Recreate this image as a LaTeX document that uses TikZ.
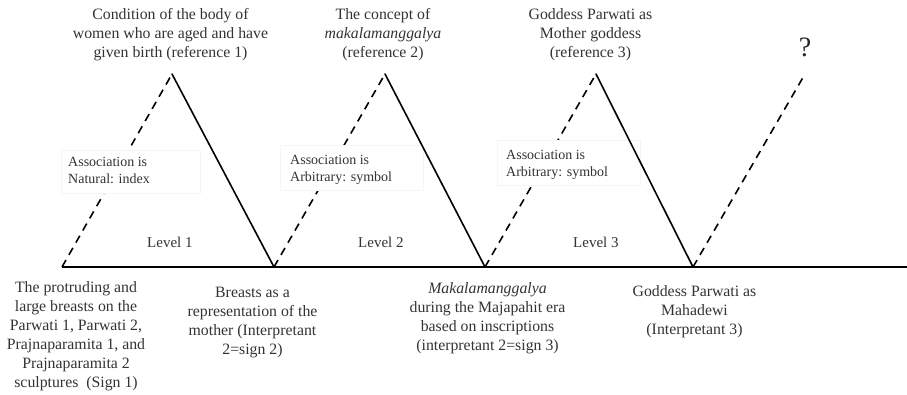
\documentclass[tikz,border=0pt]{standalone}
\usepackage{fontspec}
\setmainfont{Liberation Serif}
\begin{document}
\begin{tikzpicture}[x=1pt,y=-1pt,
  txt/.style={text=black!80, inner sep=0pt, anchor=north, align=center,
    font=\fontsize{15.8}{19}\selectfont},
  small/.style={text=black!80, inner sep=0pt, anchor=north west, align=left,
    font=\fontsize{14}{16.5}\selectfont},
  lvl/.style={text=black!80, inner sep=0pt, anchor=base west,
    font=\fontsize{15}{18}\selectfont},
  sideline/.style={line width=1.6pt, line cap=round},
  dashline/.style={line width=1.6pt, dash pattern=on 8pt off 6pt},
  axis/.style={line width=2.2pt},
  labelbox/.style={draw=black!4, line width=0.5pt, fill=white,
    inner sep=0pt, anchor=north west}]
\useasboundingbox (0,0) rectangle (907,395);

% vertices of the three triangles
\coordinate (s1) at (62,267);
\coordinate (a1) at (172,74);
\coordinate (v2) at (274,267);
\coordinate (a2) at (385,74);
\coordinate (v3) at (485,267);
\coordinate (a3) at (596,74);
\coordinate (v4) at (693,267);
\coordinate (q)  at (805,74);
\coordinate (e)  at (907,267);

% dashed sides (sign to reference)
\draw[dashline] (s1) -- (a1);
\draw[dashline] (v2) -- (a2);
\draw[dashline] (v3) -- (a3);
\draw[dashline] (v4) -- (q);

% association boxes
\node[labelbox, minimum width=139pt, minimum height=43pt] (b1) at (61,150) {};
\node[labelbox, minimum width=143pt, minimum height=45pt] (b2) at (280,145) {};
\node[labelbox, minimum width=143pt, minimum height=45pt] (b3) at (497,140) {};
\node[small] (t1) at (68,157.4) {Association is\\Natural: index};
\node[small] (t2) at (290,155.4) {Association is\\Arbitrary: symbol};
\node[small] (t3) at (506,150.4) {Association is\\Arbitrary: symbol};

% solid sides (reference to interpretant)
\draw[sideline] (a1) -- (v2);
\draw[sideline] (a2) -- (v3);
\draw[sideline] (a3) -- (v4);

% base line
\draw[axis] (s1) -- (e);

% level labels
\node[lvl] (l1) at (147,248) {Level 1};
\node[lvl] (l2) at (358,248) {Level 2};
\node[lvl] (l3) at (573,248) {Level 3};

% references
\node[txt] (r1) at (170.5,8.2) {Condition of the body of\\women who are aged and have\\given birth (reference 1)};
\node[txt] (r2) at (383,8.2) {The concept of\\\textit{makalamanggalya}\\(reference 2)};
\node[txt] (r3) at (590.5,8.2) {Goddess Parwati as\\Mother goddess\\(reference 3)};
\node[text=black!85, inner sep=0pt, anchor=base, font=\fontsize{28}{30}\selectfont] (qm) at (805,57) {?};

% signs and interpretants
\node[txt] (g1) at (76,281.2) {The protruding and\\large breasts on the\\Parwati 1, Parwati 2,\\Prajnaparamita 1, and\\Prajnaparamita 2\\sculptures\ \ (Sign 1)};
\node[txt] (g2) at (252.5,286.5) {Breasts as a\\representation of the\\mother (Interpretant\\2=sign 2)};
\node[txt] (g3) at (487.5,282.2) {\textit{Makalamanggalya}\\during the Majapahit era\\based on inscriptions\\(interpretant 2=sign 3)};
\node[txt] (g4) at (694.5,285.2) {Goddess Parwati as\\Mahadewi\\(Interpretant 3)};
\end{tikzpicture}
\end{document}
